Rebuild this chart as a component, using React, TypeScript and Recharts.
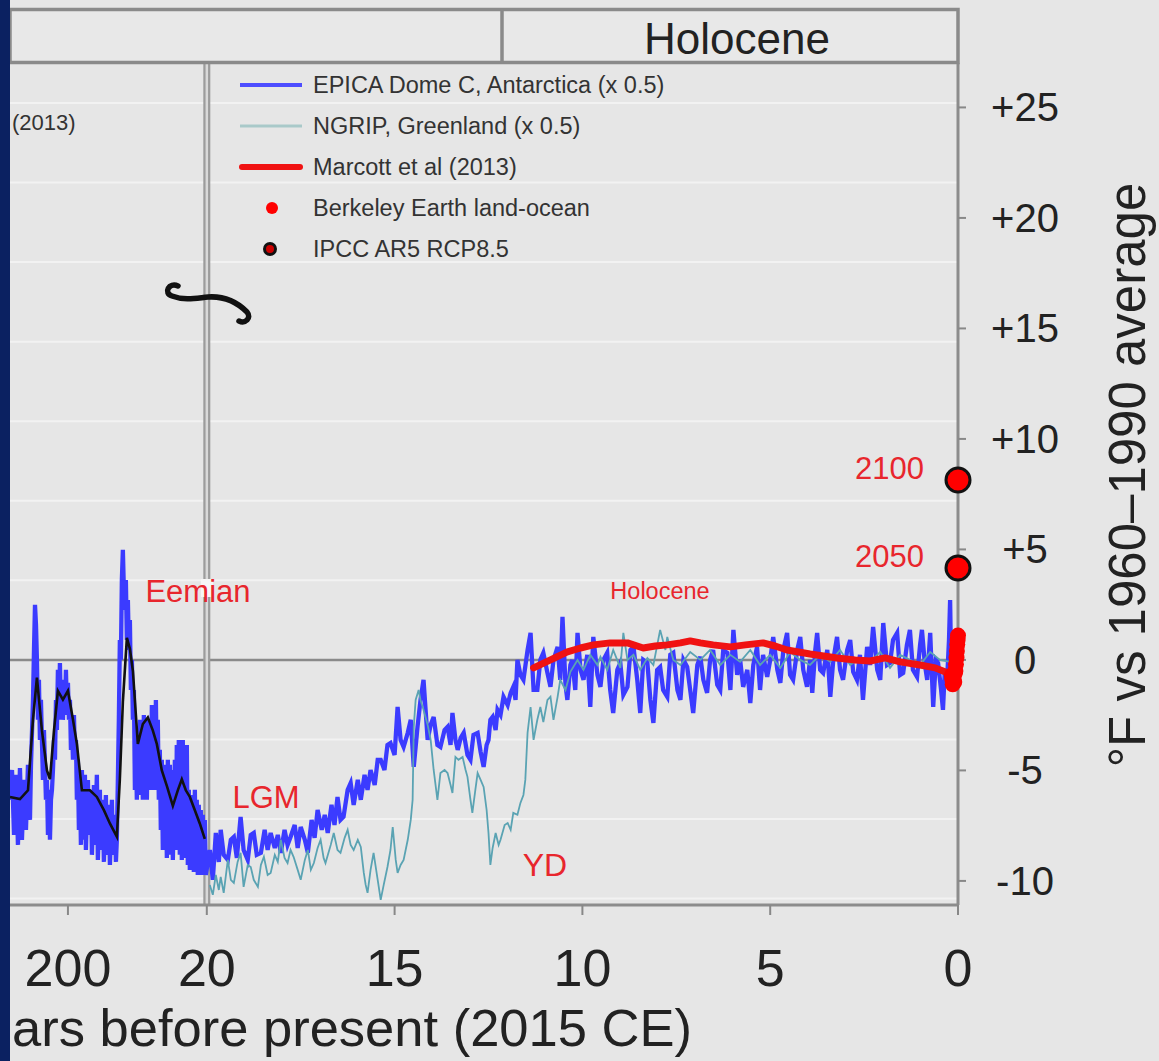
import React from 'react';
import { ComposedChart, Line, Scatter, XAxis, YAxis, ReferenceLine, Legend } from 'recharts';

// ---------- data ----------
// ages in thousand years before present, temperatures in °F vs 1960–1990
const xTickAges = [200, 20, 15, 10, 5, 0];
const yTicks = [-10, -5, 0, 5, 10, 15, 20, 25];
const gridValues = [-10.8, -7.2, -3.6, 3.6, 7.2, 10.8, 14.4, 18, 21.6, 25.2];

const legendLabels = [
  'EPICA Dome C, Antarctica (x 0.5)',
  'NGRIP, Greenland (x 0.5)',
  'Marcott et al (2013)',
  'Berkeley Earth land-ocean',
  'IPCC AR5 RCP8.5',
];

const epica: [number, number][] = [
  [275.1,-6.33],[272.5,-4.98],[269.9,-7.92],[267.3,-5.20],[264.8,-8.37],[262.2,-4.89],[259.6,-8.14],[257.0,-5.43],
  [254.4,-7.69],[251.8,-4.75],[249.2,-7.24],[247.9,-4.75],[245.3,-1.81],[244.0,0.45],[242.7,2.49],[241.4,1.58],
  [240.2,0],[238.9,-2.71],[237.6,-0.90],[236.3,-3.62],[235.0,-1.81],[232.4,-5.43],[231.1,-3.17],[228.5,-6.33],
  [227.2,-5.43],[225.9,-7.92],[224.6,-5.88],[223.3,-8.14],[222.0,-6.33],[220.7,-5.88],[219.4,-4.98],[218.1,-3.62],
  [216.8,-4.52],[215.5,-1.81],[214.3,-3.17],[213.0,-0.45],[211.7,-2.71],[210.4,-0.14],[209.1,-2.26],[207.8,-0.90],
  [206.5,-2.71],[205.2,-1.36],[203.9,-2.49],[202.6,-0.45],[201.3,-2.26],[200.0,-1.04],[198.7,-2.71],[197.4,-1.81],
  [196.1,-4.07],[194.8,-2.71],[193.5,-4.52],[192.2,-2.49],[190.9,-4.52],[189.6,-3.62],[188.4,-6.33],[187.1,-4.52],
  [185.8,-7.69],[184.5,-5.20],[183.2,-8.37],[181.9,-4.98],[180.6,-8.14],[178.0,-5.20],[176.7,-8.60],[174.1,-5.43],
  [172.8,-7.92],[170.2,-5.88],[168.9,-8.82],[166.3,-5.66],[165.0,-8.37],[162.5,-5.20],[161.2,-9.05],[158.6,-5.88],
  [157.3,-8.60],[154.7,-6.33],[153.4,-9.14],[150.8,-6.11],[149.5,-8.82],[146.9,-6.56],[145.6,-9.28],[143.0,-6.33],
  [141.7,-8.82],[139.1,-7.01],[137.8,-9.14],[136.6,-8.14],[135.3,-5.43],[134.0,-2.71],[132.7,0.90],[131.4,0],
  [130.1,3.62],[128.8,4.98],[127.5,3.17],[126.2,2.26],[124.9,3.62],[123.6,0.90],[122.3,2.71],[121.0,0.45],
  [119.7,1.81],[118.4,-1.36],[117.1,0],[115.8,-2.71],[114.5,-1.36],[113.2,-5.88],[111.9,-3.62],[110.7,-6.33],
  [109.4,-3.17],[108.1,-5.88],[106.8,-2.71],[105.5,-6.11],[104.2,-3.17],[102.9,-6.33],[101.6,-2.49],[100.3,-5.43],
  [99.0,-2.71],[97.7,-6.33],[96.4,-3.17],[95.1,-5.66],[93.8,-2.71],[92.5,-5.88],[91.2,-2.04],[89.9,-5.43],
  [88.6,-2.49],[87.3,-5.88],[86.0,-1.81],[84.8,-4.98],[83.5,-2.71],[82.2,-6.33],[80.9,-4.07],[79.6,-7.69],
  [78.3,-4.52],[77.0,-8.60],[75.7,-4.75],[74.4,-8.14],[73.1,-4.98],[71.8,-8.96],[70.5,-4.52],[69.2,-8.60],
  [67.9,-4.75],[66.6,-8.82],[65.3,-4.98],[64.0,-9.05],[61.4,-4.52],[60.1,-8.60],[58.9,-3.85],[57.6,-7.69],
  [56.3,-3.62],[55.0,-8.82],[53.7,-3.85],[52.4,-9.05],[51.1,-3.62],[49.8,-8.37],[48.5,-4.07],[47.2,-8.96],
  [45.9,-3.85],[44.6,-9.28],[43.3,-5.88],[42.0,-9.50],[40.7,-6.11],[39.4,-9.05],[38.1,-6.33],[36.8,-9.59],
  [35.5,-5.88],[34.2,-9.41],[33.0,-6.33],[31.7,-9.73],[30.4,-6.56],[29.1,-9.50],[27.8,-6.79],[26.5,-9.73],
  [25.2,-7.01],[23.9,-9.59],[22.6,-7.24],[21.3,-9.73],
  [19.92,-8.6],[19.84,-9.95],[19.76,-7.83],[19.68,-9.14],[19.63,-7.69],[19.55,-8.82],[19.44,-9.05],[19.36,-8.14],
  [19.28,-8.01],[19.20,-8.96],[19.10,-7.10],[19.02,-8.6],[18.91,-9.05],[18.83,-7.92],[18.75,-7.83],[18.67,-8.82],
  [18.56,-8.73],[18.46,-7.69],[18.38,-8.6],[18.30,-7.83],[18.19,-8.51],[18.11,-7.92],[18.03,-8.73],[17.93,-7.69],
  [17.85,-8.37],[17.77,-8.01],[17.66,-7.47],[17.58,-8.51],[17.50,-7.56],[17.39,-8.14],[17.31,-8.73],[17.21,-7.24],
  [17.13,-8.05],[17.05,-6.79],[16.94,-7.69],[16.86,-7.01],[16.78,-7.83],[16.68,-6.56],[16.60,-7.47],[16.52,-6.20],
  [16.44,-7.24],[16.36,-7.10],[16.25,-5.88],[16.17,-5.57],[16.09,-6.56],[15.98,-5.43],[15.90,-6.33],[15.80,-5.20],
  [15.72,-5.88],[15.64,-4.98],[15.53,-5.66],[15.45,-4.52],[15.37,-4.52],[15.27,-4.98],[15.19,-3.85],[15.11,-3.76],
  [15.00,-4.30],[14.92,-2.13],[14.84,-3.62],[14.76,-3.94],[14.65,-3.30],[14.57,-2.71],[14.49,-4.84],[14.39,-3.03],
  [14.31,-1.81],[14.23,-0.90],[14.12,-3.62],[14.04,-2.94],[13.96,-2.58],[13.86,-3.85],[13.78,-3.94],[13.67,-3.17],
  [13.59,-3.03],[13.51,-3.85],[13.46,-2.40],[13.38,-3.62],[13.32,-4.07],[13.24,-3.53],[13.16,-3.30],[13.06,-4.30],
  [12.98,-4.52],[12.90,-3.39],[12.79,-3.30],[12.71,-4.16],[12.63,-4.84],[12.55,-3.85],[12.50,-3.62],[12.45,-2.71],
  [12.39,-2.58],[12.31,-3.17],[12.26,-2.26],[12.18,-2.49],[12.10,-1.67],[11.99,-2.04],[11.91,-1.49],[11.84,-1.22],
  [11.78,-1.81],[11.73,0],[11.65,-0.68],[11.57,-0.90],[11.46,0.45],[11.38,1.22],[11.30,-1.36],[11.20,-1.36],
  [11.12,0],[11.04,0.32],[10.93,-0.59],[10.85,-1.22],[10.77,0],[10.66,0.59],[10.59,-0.90],[10.53,1.95],
  [10.45,-1.13],[10.40,-1.81],[10.32,-0.23],[10.27,0],[10.19,-1.36],[10.13,1.22],[10.05,-0.45],[9.97,-0.90],
  [9.87,0.23],[9.79,-2.13],[9.71,1.04],[9.60,-0.68],[9.52,-1.22],[9.44,0],[9.34,0.32],[9.26,-1.36],
  [9.18,-2.40],[9.07,-0.45],[8.99,-0.14],[8.91,-1.58],[8.80,-1.22],[8.72,0.45],[8.64,0.59],[8.54,-0.90],
  [8.46,-2.40],[8.38,0],[8.27,-0.14],[8.19,-1.81],[8.11,-2.85],[8.01,-0.45],[7.93,-0.32],[7.85,-1.36],
  [7.74,-1.67],[7.66,0.23],[7.58,0.32],[7.47,-1.36],[7.39,-1.81],[7.31,0],[7.21,-0.32],[7.13,-1.36],
  [7.05,-2.40],[6.94,-0.23],[6.86,0.14],[6.78,-0.90],[6.68,-1.49],[6.60,0],[6.52,0.45],[6.41,-1.13],
  [6.33,-1.36],[6.25,0.45],[6.14,0.32],[6.06,-1.36],[5.98,1.36],[5.88,-0.68],[5.80,0],[5.72,-1.22],
  [5.61,-0.45],[5.53,-1.95],[5.45,-0.23],[5.35,0.59],[5.27,-1.36],[5.19,0.23],[5.08,-0.77],[5.00,0],
  [4.92,1.04],[4.81,-0.45],[4.73,-1.04],[4.65,0.45],[4.55,1.22],[4.47,-0.68],[4.39,-0.90],[4.28,0.45],
  [4.20,1.04],[4.12,-0.45],[4.02,-1.22],[3.94,0],[3.88,-1.49],[3.80,0.45],[3.75,1.22],[3.67,-0.45],
  [3.59,-0.59],[3.48,0.45],[3.40,-1.67],[3.32,0],[3.22,1.04],[3.14,-0.45],[3.06,-0.90],[2.95,0.45],
  [2.87,0.90],[2.79,-0.54],[2.69,-0.90],[2.61,0.23],[2.53,-1.81],[2.42,0.59],[2.34,-0.23],[2.26,1.49],
  [2.15,-0.45],[2.07,-0.90],[1.99,1.67],[1.89,-0.23],[1.81,-0.14],[1.73,0.90],[1.62,1.22],[1.54,-0.68],
  [1.46,-0.59],[1.36,0.68],[1.28,1.36],[1.20,-0.45],[1.09,-0.77],[1.01,0.68],[0.96,1.36],[0.88,-0.23],
  [0.82,-0.90],[0.74,1.22],[0.66,-2.13],[0.59,0],[0.53,-0.14],[0.45,-1.36],[0.40,-2.26],[0.35,-0.45],
  [0.29,-0.90],[0.24,0.90],[0.21,2.71],[0.19,0.45],[0.13,0],[0.08,0.23],
];

const epicaSmooth: [number, number][] = [
  [275.1,-6.2],[262.2,-6.3],[251.8,-5.9],[245.3,-2.7],[240.2,-0.8],[233.7,-3.2],[227.2,-5.0],[223.3,-5.4],
  [218.1,-3.2],[213.0,-1.4],[206.5,-1.8],[200.0,-1.4],[193.5,-2.7],[188.4,-3.8],[181.9,-5.9],[171.5,-5.9],
  [162.5,-6.2],[153.4,-6.8],[145.6,-7.4],[136.6,-8.0],[132.7,-5.4],[128.8,-1.9],[123.6,1.0],[119.7,0.5],
  [115.8,-0.5],[109.4,-3.8],[102.9,-2.9],[96.4,-2.6],[89.9,-3.2],[84.8,-3.8],[78.3,-5.0],[71.8,-5.7],
  [64.0,-6.6],[57.6,-5.9],[52.4,-5.4],[47.2,-5.9],[42.0,-6.2],[35.5,-6.8],[29.1,-7.4],[22.6,-8.1],
];

const ngrip: [number, number][] = [
  [19.92,-10.18],[19.84,-10.63],[19.76,-9.73],[19.68,-10.41],[19.63,-9.82],[19.55,-10.54],[19.44,-9.05],[19.36,-9.95],
  [19.28,-10.09],[19.18,-9.14],[19.10,-8.73],[19.02,-10.27],[18.91,-9.28],[18.83,-9.37],[18.75,-9.95],[18.64,-10.27],
  [18.56,-9.28],[18.48,-8.91],[18.38,-9.73],[18.30,-9.64],[18.19,-8.82],[18.11,-9.14],[18.03,-8.14],[17.93,-8.96],
  [17.85,-9.19],[17.77,-8.60],[17.69,-8.91],[17.58,-9.50],[17.50,-9.95],[17.39,-9.05],[17.31,-8.60],[17.23,-9.50],
  [17.15,-9.19],[17.05,-8.51],[16.97,-8.14],[16.89,-8.96],[16.84,-9.19],[16.70,-8.37],[16.62,-7.83],[16.52,-8.60],
  [16.44,-8.73],[16.33,-8.05],[16.25,-7.69],[16.17,-8.37],[16.09,-8.60],[15.98,-8.14],[15.90,-8.46],[15.82,-9.64],
  [15.77,-10.18],[15.72,-10.54],[15.64,-9.50],[15.56,-8.73],[15.45,-9.95],[15.37,-10.86],[15.29,-10.18],[15.19,-9.37],
  [15.11,-8.60],[15.05,-7.56],[14.97,-9.05],[14.92,-9.64],[14.84,-9.28],[14.76,-9.05],[14.65,-8.14],[14.57,-7.24],
  [14.52,-6.33],[14.49,-3.03],[14.44,-1.81],[14.36,-1.36],[14.31,-1.81],[14.23,-2.26],[14.12,-2.94],[14.04,-3.62],
  [13.96,-4.98],[13.86,-6.33],[13.78,-5.12],[13.67,-4.98],[13.59,-5.12],[13.51,-5.66],[13.46,-6.02],[13.38,-4.39],
  [13.30,-4.52],[13.19,-4.39],[13.11,-4.98],[13.06,-5.29],[12.98,-6.33],[12.93,-6.92],[12.85,-5.88],[12.79,-5.12],
  [12.71,-5.43],[12.63,-5.75],[12.55,-6.79],[12.50,-7.83],[12.45,-9.28],[12.39,-8.51],[12.31,-7.83],[12.23,-8.37],
  [12.18,-8.14],[12.07,-7.47],[11.99,-7.38],[11.91,-7.69],[11.84,-6.92],[11.73,-7.01],[11.65,-6.47],[11.57,-6.11],
  [11.52,-5.43],[11.46,-3.30],[11.38,-2.13],[11.30,-3.62],[11.20,-2.71],[11.12,-2.13],[11.04,-2.81],[10.93,-1.81],
  [10.85,-1.67],[10.77,-2.71],[10.66,-1.67],[10.59,-0.90],[10.45,-1.36],[10.32,-0.54],[10.13,0],[9.97,-0.45],
  [9.79,0.23],[9.60,-0.23],[9.52,0.14],[9.34,-0.45],[9.18,0.45],[8.99,-0.36],[8.91,1.22],[8.80,0],
  [8.64,0.23],[8.46,-0.45],[8.27,0.09],[8.11,-0.23],[7.93,1.36],[7.79,0.45],[7.74,1.04],[7.58,0],
  [7.39,-0.23],[7.13,0.36],[6.86,0],[6.60,0.45],[6.33,-0.23],[6.06,0.23],[5.80,-0.09],[5.53,0.45],
  [5.27,-0.23],[5.00,0.23],[4.73,-0.36],[4.47,0.36],[4.20,0],[3.94,-0.23],[3.67,0.23],[3.40,-0.09],
  [3.14,0.45],[2.87,-0.23],[2.61,0.09],[2.34,-0.09],[2.07,0.36],[1.81,-0.36],[1.54,0.23],[1.28,0],
  [1.01,-0.23],[0.74,0.36],[0.48,0],[0.21,-0.09],
];

const marcott: [number, number][] = [
  [11.30,-0.36],[10.85,0.0],[10.40,0.36],[10.05,0.54],[9.71,0.68],[9.26,0.77],[8.80,0.77],[8.38,0.54],
  [8.06,0.63],[7.74,0.68],[7.39,0.77],[7.13,0.86],[6.86,0.77],[6.52,0.68],[6.06,0.59],[5.66,0.68],
  [5.19,0.77],[4.87,0.63],[4.55,0.45],[3.94,0.27],[3.22,0.09],[2.74,0],[2.34,-0.05],[1.94,0.09],
  [1.54,-0.09],[1.01,-0.23],[0.61,-0.36],[0.35,-0.54],[0.21,-0.68],
];

const berkeley: [number, number][] = [
  [0.165,-0.7],[0.15,-0.9],[0.14,-1.1],[0.12,-0.8],[0.1,-1.0],[0.085,-0.6],[0.07,-0.5],
  [0.055,-0.2],[0.04,0.1],[0.03,0.4],[0.02,0.7],[0.01,0.9],[0.0,1.1],
];

const ipccYears = ['2050', '2100'];
const ipccTemps = [4.16, 8.14];

// ---------- axis helpers ----------
const BREAK_AGE = 20;
const COMPRESS = 0.02054; // axis units per kyr left of the break
const ageToAxis = (age: number) => (age <= BREAK_AGE ? age : BREAK_AGE + (age - BREAK_AGE) * COMPRESS);
const X_MAX = ageToAxis(epica[0][0]);
const toRows = (arr: [number, number][]) => arr.map(([age, v]) => ({ t: ageToAxis(age), v }));

const epicaRows = toRows(epica);
const smoothRows = toRows(epicaSmooth);
const ngripRows = toRows(ngrip);
const marcottRows = toRows(marcott);
const berkeleyRows = toRows(berkeley);
const ipccRows = ipccYears.map((y, i) => ({ t: 0, v: ipccTemps[i], label: y }));
const xTicks = xTickAges.map(ageToAxis);
const xTickLabel = (t: number) => {
  const i = xTicks.findIndex((v) => Math.abs(v - t) < 1e-6);
  return i >= 0 ? String(xTickAges[i]) : '';
};

const FONT = "'Liberation Sans', Arial, Helvetica, sans-serif";
const BLUE = '#3b3bff';
const TEAL = '#5aa3b3';
const RED = '#f01212';
const ANNOT = '#e8262d';

const XTick = (props: any) => (
  <text x={props.x} y={986} textAnchor="middle" fontSize={52} fill="#222" fontFamily={FONT}>
    {xTickLabel(props.payload.value)}
  </text>
);

const YTick = (props: any) => {
  const v = props.payload.value;
  const s = v > 0 ? `+${v}` : String(v);
  return (
    <text x={1025} y={props.y + 14} textAnchor="middle" fontSize={40} fill="#222" fontFamily={FONT}>
      {s}
    </text>
  );
};

const LegendContent = () => {
  const rows = [85, 126, 167, 208, 249].map((y) => y - 64);
  return (
    <svg width={470} height={210} style={{ display: 'block' }}>
      <line x1={8} x2={70} y1={rows[0]} y2={rows[0]} stroke="#4d4dff" strokeWidth={4} />
      <line x1={8} x2={70} y1={rows[1]} y2={rows[1]} stroke="#a9c9c9" strokeWidth={3} />
      <line x1={10} x2={68} y1={rows[2]} y2={rows[2]} stroke={RED} strokeWidth={6} strokeLinecap="round" />
      <circle cx={40} cy={rows[3]} r={6} fill="#f00" />
      <circle cx={38} cy={rows[4]} r={5.5} fill="#c00" stroke="#111" strokeWidth={3} />
      {legendLabels.map((l, i) => (
        <text key={l} x={81} y={rows[i] + 8} fontSize={23.5} fill="#333" fontFamily={FONT}>
          {l}
        </text>
      ))}
    </svg>
  );
};

const IpccShape = (p: any) => (
  <g>
    <circle cx={p.cx} cy={p.cy} r={12} fill="#f00" stroke="#111" strokeWidth={3} />
    <text x={p.cx - 34} y={p.cy - 1} textAnchor="end" fontSize={31} fill={ANNOT} fontFamily={FONT}>
      {p.payload.label}
    </text>
  </g>
);

const BerkShape = (p: any) => <circle cx={p.cx} cy={p.cy} r={8} fill="#f00" />;

export default function App() {
  return (
    <div
      style={{
        position: 'absolute', left: 0, top: 0, width: 1159, height: 1061,
        background: '#e6e6e6', overflow: 'hidden', fontFamily: FONT,
      }}
    >
      <ComposedChart
        width={1159}
        height={1061}
        margin={{ top: 63, right: 51, bottom: 76, left: 10 }}
        style={{ position: 'absolute', left: 0, top: 0 }}
      >
        <XAxis
          type="number"
          dataKey="t"
          domain={[0, X_MAX]}
          reversed
          ticks={xTicks}
          interval={0}
          height={80}
          tick={<XTick />}
          tickSize={10}
          tickLine={{ stroke: '#888', strokeWidth: 2 }}
          axisLine={{ stroke: '#8c8c8c', strokeWidth: 3 }}
        />
        <YAxis
          type="number"
          orientation="right"
          domain={[-11.09, 27.01]}
          ticks={yTicks}
          interval={0}
          width={150}
          tick={<YTick />}
          tickSize={8}
          tickLine={{ stroke: '#888', strokeWidth: 2 }}
          axisLine={{ stroke: '#8c8c8c', strokeWidth: 3 }}
        />
        {gridValues.map((g) => (
          <ReferenceLine key={g} y={g} stroke="#f2f2f2" strokeWidth={2} />
        ))}
        <ReferenceLine y={0} stroke="#8a8a8a" strokeWidth={2.5} />
        <ReferenceLine x={BREAK_AGE} stroke="#9c9c9c" strokeWidth={7} />
        <ReferenceLine x={BREAK_AGE} stroke="#d9d9d9" strokeWidth={2.5} />
        <Line data={epicaRows} dataKey="v" stroke={BLUE} strokeWidth={4.3} dot={false} isAnimationActive={false} legendType="none" />
        <Line data={ngripRows} dataKey="v" stroke={TEAL} strokeWidth={1.8} dot={false} isAnimationActive={false} legendType="none" />
        <Line data={smoothRows} dataKey="v" stroke="#111" strokeWidth={2.6} dot={false} isAnimationActive={false} legendType="none" />
        <Line data={marcottRows} dataKey="v" stroke={RED} strokeWidth={7} strokeLinecap="round" strokeLinejoin="round" dot={false} isAnimationActive={false} legendType="none" />
        <Scatter data={berkeleyRows} dataKey="v" shape={<BerkShape />} isAnimationActive={false} legendType="none" />
        <Scatter data={ipccRows} dataKey="v" shape={<IpccShape />} isAnimationActive={false} legendType="none" />
        <Legend
          layout="vertical"
          align="center"
          verticalAlign="middle"
          content={<LegendContent />}
          wrapperStyle={{ position: 'absolute', left: 232, top: 64, width: 470, height: 210 }}
        />
      </ComposedChart>

      <svg width={1159} height={1061} style={{ position: 'absolute', left: 0, top: 0, pointerEvents: 'none' }}>
        {/* epoch header */}
        <rect x={10} y={9.5} width={948} height={53} fill="#e8e8e8" stroke="#8a8a8a" strokeWidth={3.5} />
        <line x1={502} x2={502} y1={9.5} y2={62.5} stroke="#8a8a8a" strokeWidth={3.5} />
        <text x={737} y={54} textAnchor="middle" fontSize={44} fill="#222" fontFamily={FONT}>Holocene</text>
        <text x={12} y={130} fontSize={22} fill="#333" fontFamily={FONT}>(2013)</text>
        {/* axis break symbol */}
        <path d="M 178 286 c -9 -4 -15 7 -6 10 c 13 5 25 2 36 1 c 15 -1 28 4 39 15 c 5 6 -2 12 -8 9"
          fill="none" stroke="#111" strokeWidth={5.5} strokeLinecap="round" />
        {/* annotations */}
        <rect x={201} y={579} width={12} height={18} fill="#f6f6f6" />
        <text x={198} y={602} textAnchor="middle" fontSize={31} fill={ANNOT} fontFamily={FONT}>Eemian</text>
        <text x={266} y={808} textAnchor="middle" fontSize={31} fill={ANNOT} fontFamily={FONT}>LGM</text>
        <text x={545} y={876} textAnchor="middle" fontSize={32} fill={ANNOT} fontFamily={FONT}>YD</text>
        <text x={660} y={599} textAnchor="middle" fontSize={23.5} fill={ANNOT} fontFamily={FONT}>Holocene</text>
        {/* axis titles */}
        <text x={12} y={1046} fontSize={52.5} fill="#222" fontFamily={FONT}>ars before present (2015 CE)</text>
        <text x={1145} y={475} transform="rotate(-90 1145 475)" textAnchor="middle" fontSize={51} fill="#222" fontFamily={FONT}>
          °F vs 1960–1990 average
        </text>
      </svg>
      <div style={{ position: 'absolute', left: 0, top: 0, width: 10, height: 1061, background: '#0b2161' }} />
    </div>
  );
}
